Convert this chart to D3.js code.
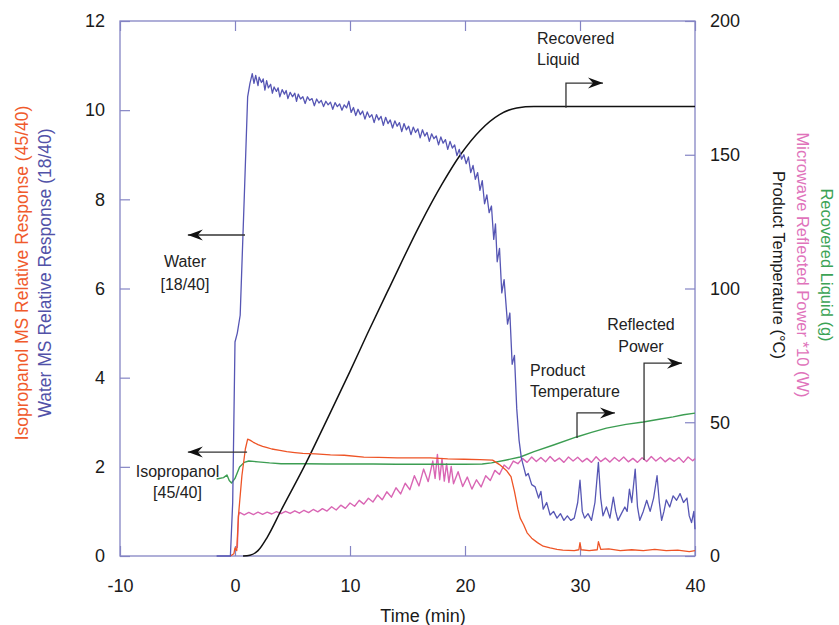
<!DOCTYPE html>
<meta charset="utf-8">
<script src="https://d3js.org/d3.v7.min.js"></script>

<div id="main"></div>

<style>
body { margin: 0; background: #fff; }
text { font-family: "Liberation Sans", Arial, Helvetica, sans-serif; }
</style>

<script>
// [time (min), value]

// left axis (MS relative response)
const water = [
  [-1.6,0],[-0.4,0],[-0.2,1.2],[0,4.8],[0.2,5.0],[0.45,5.4],[0.8,8.0],[1.1,10.3],[1.3,10.6],[1.5,10.82],
  [1.65,10.6],[1.8,10.78],[2.0,10.55],[2.1,10.74],[2.3,10.62],[2.45,10.7],[2.6,10.45],[2.75,10.66],[2.9,10.5],[3.1,10.58],
  [3.25,10.38],[3.4,10.52],[3.6,10.42],[3.75,10.5],[3.9,10.3],[4.1,10.46],[4.3,10.36],[4.45,10.44],[4.6,10.26],[4.8,10.4],
  [5.0,10.3],[5.2,10.38],[5.35,10.2],[5.5,10.36],[5.7,10.25],[5.9,10.3],[6.1,10.15],[6.3,10.3],[6.5,10.22],[6.7,10.26],
  [6.9,10.1],[7.1,10.25],[7.3,10.16],[7.5,10.22],[7.7,10.08],[7.9,10.2],[8.1,10.12],[8.3,10.18],[8.5,10.02],[8.7,10.17],
  [8.9,10.08],[9.1,10.14],[9.3,10.0],[9.5,10.12],[9.7,10.05],[9.9,10.2],[10.1,9.95],[10.3,10.06],[10.5,9.88],[10.7,10.02],
  [10.9,9.9],[11.1,9.98],[11.3,9.8],[11.5,9.96],[11.7,9.84],[11.9,9.9],[12.1,9.72],[12.3,9.9],[12.5,9.78],[12.7,9.86],
  [12.9,9.66],[13.1,9.84],[13.3,9.7],[13.5,9.78],[13.7,9.6],[13.9,9.76],[14.1,9.64],[14.3,9.72],[14.5,9.52],[14.7,9.7],
  [14.9,9.56],[15.1,9.64],[15.3,9.45],[15.5,9.62],[15.7,9.5],[15.9,9.58],[16.1,9.38],[16.3,9.56],[16.5,9.42],[16.7,9.5],
  [16.9,9.3],[17.1,9.47],[17.3,9.36],[17.5,9.42],[17.7,9.22],[17.9,9.4],[18.1,9.26],[18.3,9.34],[18.5,9.12],[18.7,9.3],
  [18.9,9.15],[19.1,9.22],[19.3,8.98],[19.5,9.12],[19.7,8.9],[19.9,9.0],[20.1,8.8],[20.3,8.95],[20.5,8.6],[20.7,8.76],
  [20.9,8.45],[21.1,8.6],[21.3,8.2],[21.5,8.42],[21.7,7.9],[21.9,8.1],[22.1,7.7],[22.3,7.85],[22.5,7.1],[22.65,7.45],
  [22.8,6.6],[23.0,6.9],[23.2,5.9],[23.4,6.2],[23.7,5.2],[23.9,5.45],[24.1,4.3],[24.3,4.5],[24.5,3.3],[24.7,2.6],
  [24.9,2.2],[25.1,2.0],[25.3,1.8],[25.5,1.85],[25.8,1.6],[26.1,1.55],[26.4,1.3],[26.6,1.45],[26.8,1.05],[27.1,1.2],
  [27.4,0.92],[27.7,1.0],[28,0.85],[28.3,0.95],[28.6,0.8],[28.9,0.9],[29.2,0.8],[29.5,0.85],[29.8,1.2],[30.0,1.7],
  [30.2,1.0],[30.4,0.85],[30.7,0.95],[31,0.8],[31.3,1.2],[31.6,2.1],[31.8,1.3],[32,0.9],[32.3,1.1],[32.6,0.85],
  [32.9,1.32],[33.1,1.0],[33.3,0.8],[33.6,0.95],[33.9,1.1],[34.1,1.0],[34.3,1.5],[34.5,1.2],[34.8,1.95],[35,1.1],
  [35.2,0.8],[35.5,1.0],[35.8,1.25],[36.1,1.0],[36.4,1.3],[36.7,1.8],[36.9,1.2],[37.1,0.8],[37.3,1.0],[37.5,1.26],
  [37.8,1.1],[38.1,1.35],[38.4,1.25],[38.7,1.4],[39,1.2],[39.3,1.3],[39.5,0.9],[39.7,0.75],[39.9,1.0],[40,0.6]
];

const isopropanol = [
  [-0.4,0],[-0.1,0.05],[0,0.18],[0.15,0.12],[0.3,0.9],[0.6,1.8],[0.9,2.4],[1.1,2.62],[1.3,2.6],[1.6,2.55],
  [2,2.5],[2.4,2.46],[2.8,2.43],[3.2,2.4],[3.9,2.37],[4.5,2.34],[5.2,2.32],[5.9,2.3],[7,2.29],[8.3,2.27],
  [9.5,2.26],[11.2,2.22],[12.5,2.21],[14.1,2.2],[15.5,2.2],[17,2.2],[18.5,2.18],[19.9,2.17],[21.3,2.16],[22.4,2.15],
  [23,2.05],[23.6,1.92],[24,1.78],[24.3,1.45],[24.6,1.05],[24.8,0.85],[25.1,0.7],[25.4,0.52],[25.8,0.4],[26.3,0.3],
  [26.8,0.22],[27.4,0.18],[28,0.15],[28.5,0.13],[29.5,0.12],[29.9,0.14],[30,0.3],[30.1,0.14],[30.8,0.12],[31.5,0.14],
  [31.6,0.32],[31.8,0.15],[32.5,0.16],[33.5,0.12],[34.5,0.14],[35.5,0.12],[36.5,0.15],[37.5,0.12],[38.5,0.13],[39.5,0.1],
  [40,0.12]
];

// right axis
const productTemp = [
  [-1.6,28.8],[-1.0,29.3],[-0.7,30.3],[-0.5,28.2],[-0.3,27.3],[0,29],[0.4,33.3],[0.8,35],[1.2,35.5],[2,35.2],
  [3,34.8],[4,34.5],[6,34.5],[8,34.4],[10,34.4],[12,34.4],[14,34.3],[16,34.3],[18,34.3],[20,34.3],
  [21.5,34.4],[22.3,34.8],[23.5,35.8],[24.8,37],[26,39],[27.7,41.5],[29.7,44.5],[31,46.2],[32.3,47.8],[34,49.2],
  [35.5,50.1],[37,51.2],[38.1,52],[39,52.8],[40,53.4]
];

const reflectedPower = [
  [0.2,3],[0.3,15],[0.4,16.3],[0.8,15.4],[1.2,16.3],[1.6,15.5],[2.0,16.4],[2.4,15.6],[2.8,16.4],[3.2,15.7],
  [3.6,16.6],[4.0,15.8],[4.4,16.7],[4.8,15.9],[5.2,16.9],[5.6,16.0],[6.0,17.1],[6.4,16.2],[6.8,17.4],[7.2,16.5],
  [7.6,17.7],[8.0,16.8],[8.4,18.4],[8.8,17.2],[9.2,19.0],[9.6,17.8],[10.0,19.8],[10.4,18.6],[10.8,20.8],[11.2,19.4],
  [11.6,21.6],[12.0,20.2],[12.4,22.8],[12.8,21.0],[13.2,24.0],[13.6,22.0],[14.0,25.5],[14.4,23.2],[14.8,27.2],[15.2,24.8],
  [15.6,30.0],[16.0,26.2],[16.4,32.5],[16.8,27.8],[17.2,35.5],[17.4,29.0],[17.6,38.0],[17.8,28.5],[18.0,36.5],[18.2,28.0],
  [18.4,34.5],[18.6,27.5],[18.8,33.5],[19.0,27.0],[19.4,31.5],[19.8,26.0],[20.2,29.5],[20.6,25.0],[21.0,28.5],[21.4,25.8],
  [21.8,30.0],[22.2,28.2],[22.6,32.0],[23.0,30.5],[23.4,34.0],[23.8,32.5],[24.2,35.5],[24.6,34.5],[25.0,36.5],[25.4,35.0],
  [25.8,37.0],[26.2,35.3],[26.6,36.8],[27.0,35.2],[27.4,37.2],[27.8,35.4],[28.2,36.6],[28.6,35.0],[29.0,37.0],[29.4,35.5],
  [29.8,36.9],[30.2,35.2],[30.6,36.5],[31.0,35.0],[31.4,37.1],[31.8,35.3],[32.2,36.6],[32.6,35.1],[33.0,36.8],[33.4,35.4],
  [33.8,37.0],[34.2,35.2],[34.6,36.5],[35.0,35.0],[35.4,36.7],[35.8,35.3],[36.2,37.2],[36.6,35.5],[37.0,36.9],[37.4,35.2],
  [37.8,36.6],[38.2,35.4],[38.6,36.8],[39.0,35.0],[39.4,37.0],[39.8,35.6],[40.0,36.4]
];

const recoveredLiquid = [
  [0.7,0],[1.3,0.3],[2,2],[2.8,7],[4,17],[6.2,35],[8,51],[10,69],[11.5,83],[13.5,101],
  [16.1,124],[18,139],[19.6,150],[21.3,159],[23,165],[24.5,167.5],[26,168],[40,168]
];

const xTicks = [-10, 0, 10, 20, 30, 40];
const leftTicks = [0, 2, 4, 6, 8, 10, 12];
const rightTicks = [0, 50, 100, 150, 200];

// callouts: text position and arrow path in data units
const callouts = [
  {lines: ["Water", "[18/40]"], axis: "L", tx: -4.35, ty: 6.48, anchor: "middle", gap: 23,
   arrow: [[0.87, 7.2], [-4.1, 7.2]]},
  {lines: ["Isopropanol", "[45/40]"], axis: "L", tx: -5.0, ty: 1.77, anchor: "middle", gap: 21,
   arrow: [[1.05, 2.33], [-4.1, 2.33]]},
  {lines: ["Recovered", "Liquid"], axis: "R", tx: 26.26, ty: 191.4, anchor: "start", gap: 21,
   arrow: [[28.78, 167.6], [28.78, 176.8], [32.0, 176.8]]},
  {lines: ["Product", "Temperature"], axis: "R", tx: 25.65, ty: 67.3, anchor: "start", gap: 21,
   arrow: [[29.74, 44.1], [29.74, 53.5], [33.04, 53.5]]},
  {lines: ["Reflected", "Power"], axis: "R", tx: 35.3, ty: 84.5, anchor: "middle", gap: 22,
   arrow: [[35.57, 35.9], [35.57, 72.1], [38.87, 72.1]]}
];

const width = 839, height = 625;
const plot = {left: 120, right: 695, top: 21, bottom: 556};
const frameColor = "#8484c4";

const svg = d3.select("#main").append("svg")
    .attr("width", width)
    .attr("height", height);

const x = d3.scaleLinear().domain([-10, 40]).range([plot.left, plot.right]);
const yL = d3.scaleLinear().domain([0, 12]).range([plot.bottom, plot.top]);
const yR = d3.scaleLinear().domain([0, 200]).range([plot.bottom, plot.top]);

// axes, ticks pointing inward
function styleAxis(g) {
  g.select(".domain").remove();
  g.selectAll(".tick line").attr("stroke", frameColor).attr("stroke-width", 1.2);
  g.selectAll(".tick text").attr("fill", "#1a1a1a").attr("font-size", 18)
    .attr("font-family", "'Liberation Sans', Arial, sans-serif");
}

const plain = d => String(d);

svg.append("g")
    .attr("transform", "translate(0," + plot.bottom + ")")
    .call(d3.axisBottom(x).tickValues(xTicks).tickSize(-10).tickPadding(23).tickFormat(plain))
    .call(styleAxis);

svg.append("g")
    .attr("transform", "translate(0," + plot.top + ")")
    .call(d3.axisTop(x).tickValues(xTicks).tickSize(-10).tickFormat(""))
    .call(styleAxis);

svg.append("g")
    .attr("transform", "translate(" + plot.left + ",0)")
    .call(d3.axisLeft(yL).tickValues(leftTicks).tickSize(-10).tickPadding(15).tickFormat(plain))
    .call(styleAxis);

svg.append("g")
    .attr("transform", "translate(" + plot.right + ",0)")
    .call(d3.axisRight(yR).tickValues(rightTicks).tickSize(-10).tickPadding(15).tickFormat(plain))
    .call(styleAxis);

svg.append("rect")
    .attr("x", plot.left).attr("y", plot.top)
    .attr("width", plot.right - plot.left).attr("height", plot.bottom - plot.top)
    .attr("fill", "none").attr("stroke", frameColor).attr("stroke-width", 1.3);

// series
const lineL = d3.line().x(d => x(d[0])).y(d => yL(d[1]));
const lineR = d3.line().x(d => x(d[0])).y(d => yR(d[1]));

const series = [
  {data: reflectedPower, line: lineR, color: "#d966b4", w: 1.4},
  {data: productTemp, line: lineR, color: "#3c9d52", w: 1.4},
  {data: recoveredLiquid, line: d3.line().curve(d3.curveMonotoneX).x(d => x(d[0])).y(d => yR(d[1])), color: "#111", w: 1.5},
  {data: isopropanol, line: lineL, color: "#ee5426", w: 1.3},
  {data: water, line: lineL, color: "#5656b4", w: 1.3}
];

svg.append("g").selectAll("path")
  .data(series)
  .enter().append("path")
    .attr("d", d => d.line(d.data))
    .attr("fill", "none")
    .attr("stroke", d => d.color)
    .attr("stroke-width", d => d.w)
    .attr("stroke-linejoin", "round");

// callouts
const ann = svg.append("g").attr("fill", "#222").attr("font-size", 16);

callouts.forEach(function(c) {
  const yS = c.axis === "L" ? yL : yR;
  const pts = c.arrow.map(p => [x(p[0]), yS(p[1])]);

  ann.append("path")
      .attr("d", d3.line()(pts))
      .attr("fill", "none")
      .attr("stroke", "#333")
      .attr("stroke-width", 1.3);

  const tip = pts[pts.length - 1], prev = pts[pts.length - 2];
  const dir = tip[0] > prev[0] ? 1 : -1;
  const len = 15, hw = 5.5, notch = 5;
  ann.append("path")
      .attr("d", "M" + tip[0] + "," + tip[1] +
                 "L" + (tip[0] - dir * len) + "," + (tip[1] - hw) +
                 "L" + (tip[0] - dir * (len - notch)) + "," + tip[1] +
                 "L" + (tip[0] - dir * len) + "," + (tip[1] + hw) + "Z")
      .attr("fill", "#111");

  const t = ann.append("text")
      .attr("x", x(c.tx))
      .attr("y", yS(c.ty))
      .attr("text-anchor", c.anchor);
  c.lines.forEach(function(s, i) {
    t.append("tspan")
        .attr("x", x(c.tx))
        .attr("dy", i === 0 ? 0 : c.gap)
        .text(s);
  });
});

// axis titles
svg.append("text")
    .attr("transform", "translate(423,622)")
    .attr("text-anchor", "middle")
    .attr("font-size", 18)
    .attr("fill", "#1a1a1a")
    .text("Time (min)");

const leftTitles = [
  {text: "Isopropanol MS Relative Response (45/40)", x: 22, color: "#f05a2c"},
  {text: "Water MS Relative Response (18/40)", x: 45, color: "#5252a8"}
];
const rightTitles = [
  {text: "Product Temperature (°C)", x: 779, color: "#1a1a1a"},
  {text: "Microwave Reflected Power *10 (W)", x: 803, color: "#e073bb"},
  {text: "Recovered Liquid (g)", x: 827, color: "#3ca355"}
];

svg.selectAll(".ltitle")
  .data(leftTitles)
  .enter().append("text")
    .attr("transform", d => "translate(" + d.x + ",273) rotate(-90)")
    .attr("text-anchor", "middle")
    .attr("dy", "0.35em")
    .attr("font-size", 17.5)
    .attr("fill", d => d.color)
    .text(d => d.text);

svg.selectAll(".rtitle")
  .data(rightTitles)
  .enter().append("text")
    .attr("transform", d => "translate(" + d.x + ",265) rotate(90)")
    .attr("text-anchor", "middle")
    .attr("dy", "0.35em")
    .attr("font-size", 16.5)
    .attr("fill", d => d.color)
    .text(d => d.text);
</script>
